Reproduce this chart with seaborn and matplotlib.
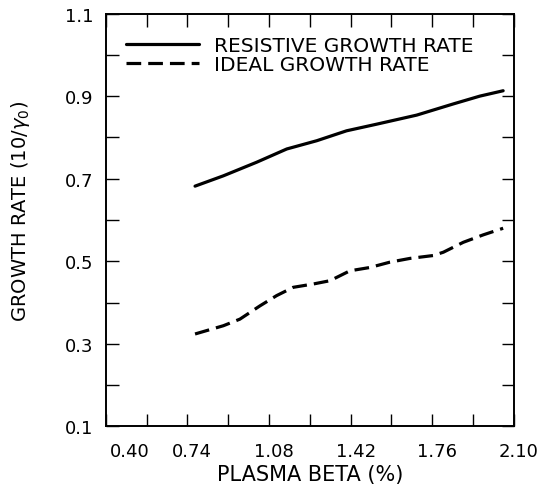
import matplotlib
matplotlib.use("Agg")
import matplotlib.pyplot as plt
import matplotlib.transforms as mtransforms
import numpy as np
import pandas as pd
import seaborn as sns

# Growth-rate curves versus plasma beta
beta_resistive = [0.772, 0.890, 1.029, 1.154, 1.279, 1.403, 1.528, 1.695, 1.847, 1.958, 2.055]
rate_resistive = [0.682, 0.707, 0.740, 0.772, 0.792, 0.816, 0.832, 0.854, 0.881, 0.900, 0.913]

beta_ideal = [0.772, 0.890, 0.959, 1.042, 1.112, 1.181, 1.264, 1.334, 1.417,
              1.500, 1.584, 1.667, 1.764, 1.806, 1.889, 1.972, 2.055]
rate_ideal = [0.324, 0.344, 0.360, 0.392, 0.417, 0.437, 0.445, 0.453, 0.477,
              0.485, 0.498, 0.507, 0.514, 0.522, 0.546, 0.564, 0.580]

x_tick_labels = ["0.40", "0.74", "1.08", "1.42", "1.76", "2.10"]
y_tick_labels = ["0.1", "0.3", "0.5", "0.7", "0.9", "1.1"]

sns.set_theme(style="ticks")
plt.rcParams["font.family"] = ["DejaVu Sans"]
plt.rcParams["mathtext.fontset"] = "dejavusans"
plt.rcParams["text.color"] = "black"
plt.rcParams["axes.labelcolor"] = "black"

fig = plt.figure(figsize=(5.41, 4.89), dpi=100)
ax = fig.add_axes([0.1954, 0.1258, 0.7546, 0.8445])

df_res = pd.DataFrame({"beta": beta_resistive, "rate": rate_resistive})
df_ide = pd.DataFrame({"beta": beta_ideal, "rate": rate_ideal})

sns.lineplot(data=df_res, x="beta", y="rate", ax=ax, color="black",
             linewidth=2.3, label="RESISTIVE GROWTH RATE")
sns.lineplot(data=df_ide, x="beta", y="rate", ax=ax, color="black",
             linewidth=2.3, label="IDEAL GROWTH RATE")
ax.lines[1].set_dashes([4.6, 2.2])
for ln in ax.lines:
    ln.set_solid_joinstyle("round")
    ln.set_dash_joinstyle("round")

ax.set_xlim(0.40, 2.10)
ax.set_ylim(0.1, 1.1)

# Ticks every half-step of the labelled values, inward on all four sides
ax.set_xticks(np.linspace(0.40, 2.10, 11))
ax.set_xticklabels([x_tick_labels[i // 2] if i % 2 == 0 else "" for i in range(11)])
ax.set_yticks(np.linspace(0.1, 1.1, 11))
ax.set_yticklabels([y_tick_labels[i // 2] if i % 2 == 0 else "" for i in range(11)])

ax.tick_params(axis="both", which="major", direction="in", length=9, width=1.0,
               top=True, right=True, labelsize=13, colors="black",
               labelcolor="black")
ax.tick_params(axis="x", pad=11)
ax.tick_params(axis="y", pad=9)

# Nudge x tick labels; the first one clears the y axis
for i, lab in enumerate(ax.get_xticklabels()):
    dx = 24 if i == 0 else 5
    lab.set_transform(lab.get_transform() +
                      mtransforms.ScaledTranslation(dx / 100, 0, fig.dpi_scale_trans))

for s in ax.spines.values():
    s.set_linewidth(1.4)
    s.set_color("black")
    s.set_visible(True)

ax.set_xlabel("PLASMA BETA (%)", fontsize=15, labelpad=3)
ax.set_ylabel(r"GROWTH RATE (10/$\gamma_0$)", fontsize=14)
ax.yaxis.set_label_coords(-0.18, 0.522)

leg = ax.legend(loc="upper left", bbox_to_anchor=(0.03, 0.965), frameon=False,
                fontsize=14.5, handlelength=3.6, handletextpad=0.75,
                labelspacing=0.0, borderaxespad=0)
for t in leg.get_texts():
    t.set_color("black")

fig.savefig("out.png", dpi=100)
